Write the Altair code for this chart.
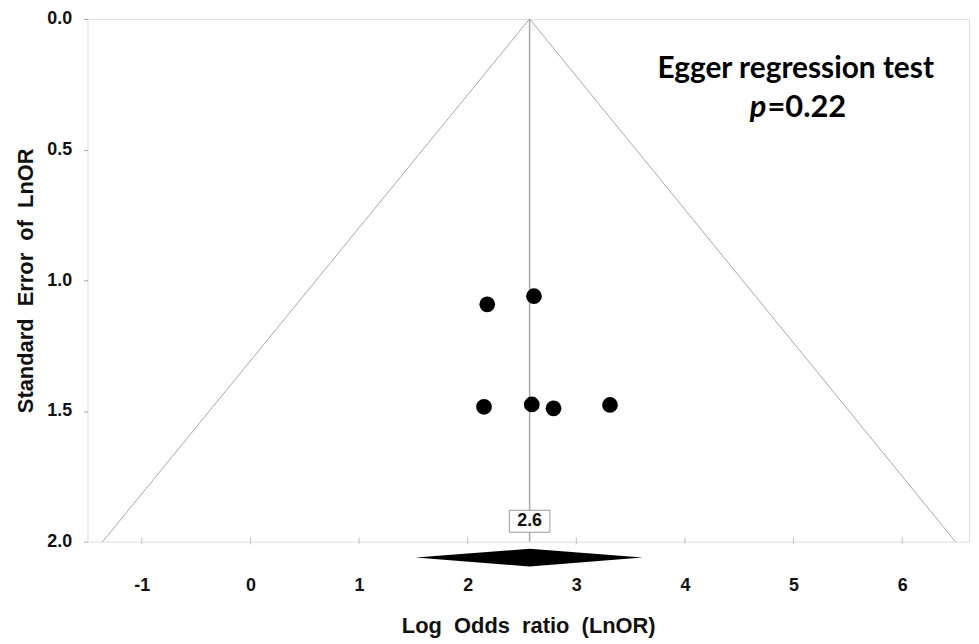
import altair as alt
import pandas as pd

# ---- data ----
study_lnor = [2.18, 2.61, 2.15, 2.59, 2.79, 3.31]
study_se = [1.092, 1.061, 1.484, 1.475, 1.490, 1.477]

pooled = 2.57
pooled_label = "2.6"

funnel_x = [-1.36, 2.57, 6.49]
funnel_se = [2.0, 0.0, 2.0]

diamond_x = [1.52, 2.57, 3.61]
diamond_top = [2.061, 2.027, 2.061]
diamond_bottom = [2.061, 2.095, 2.061]

x_ticks = [-1, 0, 1, 2, 3, 4, 5, 6]
y_ticks = [0.0, 0.5, 1.0, 1.5, 2.0]

NB = "\u00a0"
x_title = f"Log{NB}{NB}Odds{NB}{NB}ratio{NB}{NB}(LnOR)"
y_title = f"Standard{NB}{NB}Error{NB}{NB}of{NB}{NB}LnOR"

GRAY = "#a8a8a8"
SANS = "Liberation Sans, Arial"

xscale = alt.Scale(domain=[-1.5, 6.615], nice=False, zero=False)
yscale = alt.Scale(domain=[0, 2], reverse=True, nice=False, zero=False)

xaxis = alt.Axis(
    title=x_title, values=x_ticks, labelExpr="'' + datum.value",
    tickSize=0, domain=False, grid=False, labelPadding=35,
    labelFont=SANS, labelFontSize=18, labelFontWeight="bold", labelColor="#111",
    titleFont=SANS, titleFontSize=22, titleFontWeight="bold", titleColor="#111",
    titlePadding=21,
)
yaxis = alt.Axis(
    title=y_title, values=y_ticks, format=".1f",
    tickSize=4, tickColor=GRAY, domain=False, grid=False, labelPadding=12,
    labelFont=SANS, labelFontSize=18, labelFontWeight="bold", labelColor="#111",
    titleFont=SANS, titleFontSize=22, titleFontWeight="bold", titleColor="#111",
    titlePadding=9,
)


def X(field):
    return alt.X(field, type="quantitative", scale=xscale, axis=xaxis)


def Y(field):
    return alt.Y(field, type="quantitative", scale=yscale, axis=yaxis)


funnel_df = pd.DataFrame({"x": funnel_x, "se": funnel_se, "i": range(len(funnel_x))})
funnel = alt.Chart(funnel_df).mark_line(color=GRAY, strokeWidth=1).encode(
    x=X("x"), y=Y("se"), order="i:Q"
)

center_df = pd.DataFrame({"x": [pooled], "y0": [0.0], "y1": [2.0]})
center = alt.Chart(center_df).mark_rule(color=GRAY, strokeWidth=1.5).encode(
    x=X("x"), y=Y("y0"), y2="y1:Q"
)

tick_df = pd.DataFrame({"x": x_ticks})
ticks = alt.Chart(tick_df).mark_tick(color=GRAY, thickness=1, size=7).encode(
    x=X("x"), y=alt.value(525)
)

pts_df = pd.DataFrame({"lnor": study_lnor, "se": study_se})
points = alt.Chart(pts_df).mark_circle(color="black", opacity=1, size=250).encode(
    x=X("lnor"), y=Y("se")
)

dia_df = pd.DataFrame({"x": diamond_x, "y0": diamond_top, "y1": diamond_bottom})
diamond = alt.Chart(dia_df).mark_area(color="black", opacity=1).encode(
    x=X("x"), y=Y("y0"), y2="y1:Q"
)

box_df = pd.DataFrame({"x0": [pooled - 0.187], "x1": [pooled + 0.187],
                       "y0": [1.880], "y1": [1.964]})
box = alt.Chart(box_df).mark_rect(fill="white", stroke="#999", strokeWidth=1).encode(
    x=X("x0"), x2="x1:Q", y=Y("y0"), y2="y1:Q"
)

lab_df = pd.DataFrame({"x": [pooled], "y": [1.922], "t": [pooled_label]})
lab = alt.Chart(lab_df).mark_text(font=SANS, fontSize=18, fontWeight="bold",
                                  color="#111").encode(
    x=X("x"), y=Y("y"), text="t:N"
)

FONT_ANN = "Lato, Open Sans"
ann_df = pd.DataFrame({"x": [5.02], "y": [0.19], "t": ["Egger regression test"]})
ann1 = alt.Chart(ann_df).mark_text(font=FONT_ANN, fontSize=30,
                                   fontWeight="bold", color="black").encode(
    x=X("x"), y=Y("y"), text="t:N"
)
p_df = pd.DataFrame({"x": [4.75], "y": [0.34], "t": ["p"]})
ann_p = alt.Chart(p_df).mark_text(font=FONT_ANN, fontSize=31, fontWeight="bold",
                                  fontStyle="italic", align="right", color="black").encode(
    x=X("x"), y=Y("y"), text="t:N"
)
v_df = pd.DataFrame({"x": [4.75], "y": [0.34], "t": ["=0.22"]})
ann_v = alt.Chart(v_df).mark_text(font=FONT_ANN, fontSize=31, fontWeight="bold",
                                  align="left", dx=1, color="black").encode(
    x=X("x"), y=Y("y"), text="t:N"
)

chart = alt.layer(
    funnel, center, ticks, diamond, box, lab, points, ann1, ann_p, ann_v
).properties(
    width=887, height=526,
    autosize=alt.AutoSizeParams(type="none"),
    padding={"left": 80, "top": 9, "right": 2, "bottom": 100},
).configure_view(
    stroke=GRAY, strokeWidth=1.2
).configure(background="white")

chart.save("out.html", embed_options={"renderer": "svg", "actions": False})
